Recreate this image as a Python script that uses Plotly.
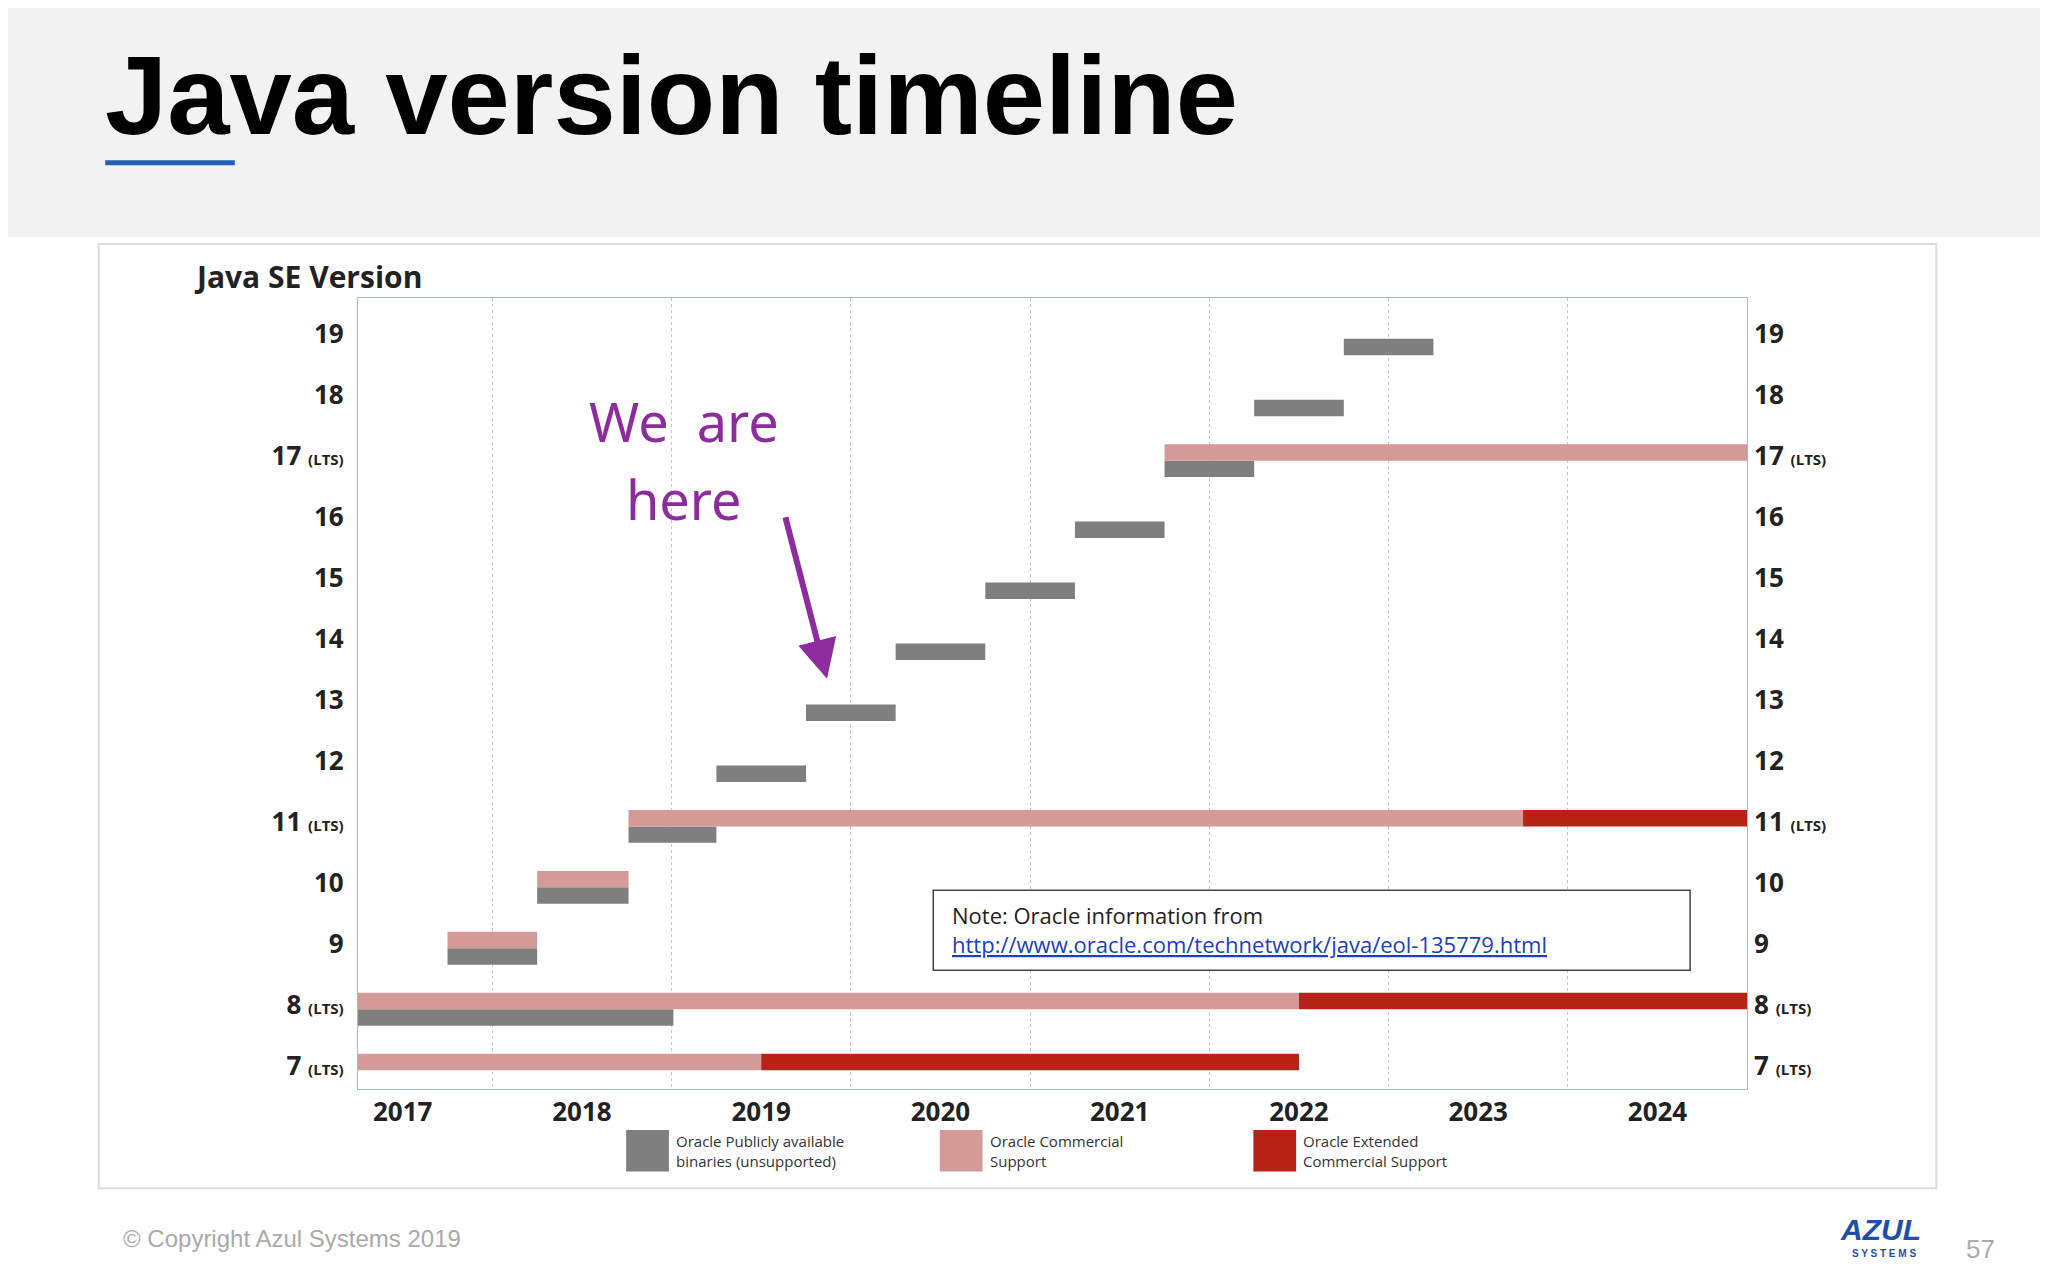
import plotly.graph_objects as go

# versions on the y axis
versions = [7, 8, 9, 10, 11, 12, 13, 14, 15, 16, 17, 18, 19]
lts = [7, 8, 11, 17]
years = [2017, 2018, 2019, 2020, 2021, 2022, 2023, 2024]

# Oracle publicly available binaries (start, end)
public = {8: (2016.75, 2018.51), 9: (2017.25, 2017.75), 10: (2017.75, 2018.26),
          11: (2018.26, 2018.75), 12: (2018.75, 2019.25), 13: (2019.25, 2019.75),
          14: (2019.75, 2020.25), 15: (2020.25, 2020.75), 16: (2020.75, 2021.25),
          17: (2021.25, 2021.75), 18: (2021.75, 2022.25), 19: (2022.25, 2022.75)}
# Oracle commercial support
commercial = {7: (2016.75, 2019.0), 8: (2016.75, 2022.0), 9: (2017.25, 2017.75),
              10: (2017.75, 2018.26), 11: (2018.26, 2023.25), 17: (2021.25, 2024.5)}
# Oracle extended commercial support
extended = {7: (2019.0, 2022.0), 8: (2022.0, 2024.5), 11: (2023.25, 2024.5)}

GREY, PINK, RED = "#7f7f7f", "#d49a98", "#b82318"
W, H = 1568, 980


def px(x):
    return x / W


def py(y):
    return 1 - y / H


def bars(d, color, offset):
    ks = list(d.keys())
    return go.Bar(y=[k + offset for k in ks], x=[d[k][1] - d[k][0] for k in ks],
                  base=[d[k][0] for k in ks], orientation="h", width=0.27,
                  marker=dict(color=color, line_width=0), showlegend=False,
                  hoverinfo="skip")


fig = go.Figure()
fig.add_trace(bars(public, GREY, -0.21))
fig.add_trace(bars(commercial, PINK, 0.06))
fig.add_trace(bars(extended, RED, 0.06))
fig.add_trace(go.Scatter(x=[2020], y=[7], yaxis="y2", mode="markers",
                         marker_opacity=0, showlegend=False, hoverinfo="skip"))

ticktext = [f"<b>{v}</b> <span style='font-size:15px'><b>(LTS)</b></span>" if v in lts
            else f"<b>{v}</b>" for v in versions]
yfont = dict(family="Open Sans", size=26, color="#222")

fig.update_layout(
    margin=dict(l=0, r=0, t=0, b=0),
    paper_bgcolor="white", plot_bgcolor="white", barmode="overlay",
    xaxis=dict(domain=[px(270), px(1342)], range=[2016.75, 2024.5],
               tickvals=years, ticktext=[f"<b>{y}</b>" for y in years],
               tickfont=yfont, showgrid=False, zeroline=False, ticks="",
               showline=True, linecolor="#a9b8cc", mirror=True,
               minor=dict(tickvals=[y + 0.5 for y in years[:-1]], showgrid=True,
                          gridcolor="#c8c8c8", griddash="dot", ticks="")),
    yaxis=dict(domain=[py(838), py(225)], range=[6.62, 19.59], tickvals=versions,
               ticktext=ticktext, tickfont=yfont, showgrid=False, zeroline=False,
               ticks="", showline=True, linecolor="#a9b8cc", mirror=True,
               ticklabelstandoff=8),
    yaxis2=dict(overlaying="y", side="right", range=[6.62, 19.59], tickvals=versions,
                ticktext=ticktext, tickfont=yfont, showgrid=False, zeroline=False,
                ticks="", anchor="x", ticklabelstandoff=6),
    font=dict(family="Open Sans"),
)

shapes = [
    dict(type="rect", xref="paper", yref="paper", x0=0, x1=1, y0=py(178), y1=1,
         fillcolor="#f2f2f2", line_width=0, layer="below"),
    dict(type="rect", xref="paper", yref="paper", x0=px(75), x1=px(175), y0=py(122), y1=py(118),
         fillcolor="#1f5fb4", line_width=0),
    dict(type="rect", xref="paper", yref="paper", x0=px(70), x1=px(1488), y0=py(915), y1=py(183),
         line=dict(color="#dcdcdc", width=2), layer="below"),
    dict(type="rect", xref="paper", yref="paper", x0=px(714), x1=px(1298), y0=py(746), y1=py(684),
         fillcolor="white", line=dict(color="#444", width=1.5)),
]
legend = [(GREY, 477, "Oracle Publicly available<br>binaries (unsupported)"),
          (PINK, 719, "Oracle Commercial<br>Support"),
          (RED, 961, "Oracle Extended<br>Commercial Support")]
ann = [
    dict(text="<b>Java version timeline</b>", x=px(73), y=py(68), xanchor="left",
         font=dict(family="Liberation Sans", size=112, color="black")),
    dict(text="<b>Java SE Version</b>", x=px(142), y=py(208), xanchor="left",
         font=dict(family="Open Sans", size=30, color="#222")),
    dict(text="We  are", x=px(522), y=py(320), font=dict(family="Noto Sans", size=54, color="#8e2b9e")),
    dict(text="here", x=px(522), y=py(381), font=dict(family="Noto Sans", size=54, color="#8e2b9e")),
    dict(text="", x=px(632), y=py(520), ax=-42, ay=-163,
         showarrow=True, arrowhead=2, arrowsize=1.3, arrowwidth=6, arrowcolor="#8e2b9e"),
    dict(text="Note: Oracle information from", x=px(727), y=py(703), xanchor="left",
         font=dict(size=22, color="#222")),
    dict(text="<u>http://www.oracle.com/technetwork/java/eol-135779.html</u>", x=px(727), y=py(726),
         xanchor="left", font=dict(size=22, color="#1a3fbf")),
    dict(text="© Copyright Azul Systems 2019", x=px(87), y=py(954), xanchor="left",
         font=dict(family="Liberation Sans", size=24, color="#aaaaaa")),
    dict(text="<b><i>AZUL</i></b>", x=px(1445), y=py(947), font=dict(family="Liberation Sans", size=30, color="#1f4fa8")),
    dict(text="<b>S Y S T E M S</b>", x=px(1448), y=py(966), font=dict(family="Liberation Sans", size=10, color="#1f4fa8")),
    dict(text="57", x=px(1522), y=py(962), font=dict(family="Liberation Sans", size=26, color="#aaaaaa")),
]
for color, x0, label in legend:
    shapes.append(dict(type="rect", xref="paper", yref="paper", x0=px(x0), x1=px(x0 + 33),
                       y0=py(902), y1=py(870), fillcolor=color, line_width=0))
    ann.append(dict(text=label, x=px(x0 + 37), y=py(886), xanchor="left", align="left",
                    font=dict(size=15, color="#333")))
for a in ann:
    a.setdefault("xref", "paper")
    a.setdefault("yref", "paper")
    a.setdefault("showarrow", False)
    a.setdefault("xanchor", "center")
    a["yanchor"] = "middle"
fig.update_layout(shapes=shapes, annotations=ann)

fig.write_html("out.html")
